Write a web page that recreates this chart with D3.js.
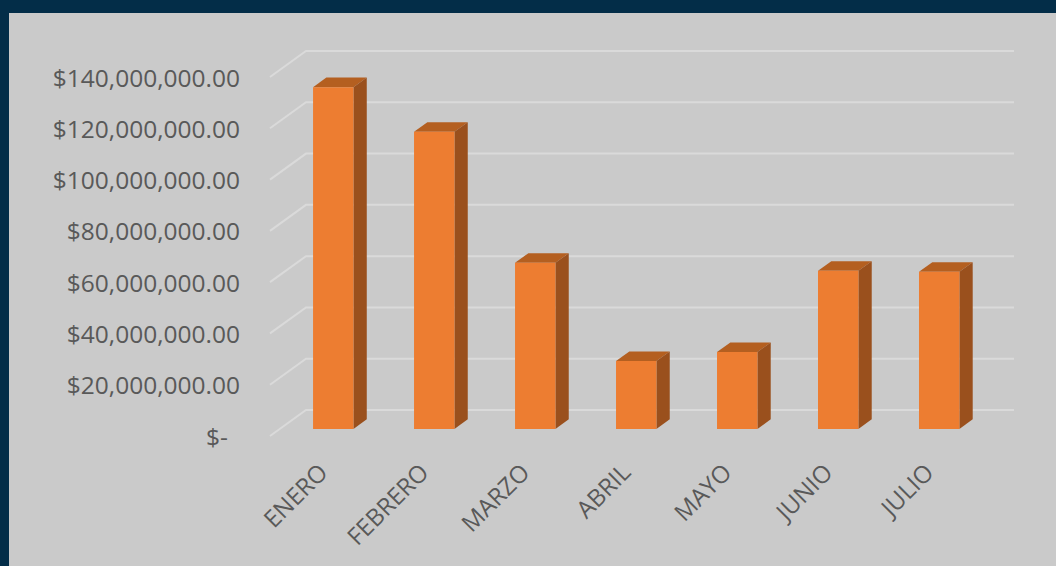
<!DOCTYPE html>
<html lang="es">
<head>
    <meta charset="UTF-8">
    <title>Ventas por mes</title>
    <script src="https://d3js.org/d3.v7.min.js"></script>
    <style>
        body { margin: 0; background: #032d48; }
        text { font-family: "Open Sans", sans-serif; fill: #595959; }
    </style>
</head>
<body>
    <div id="plot"></div>

    <script>
        let meses = ['ENERO', 'FEBRERO', 'MARZO', 'ABRIL', 'MAYO', 'JUNIO', 'JULIO'];
        let ventas = [133300000, 115900000, 64800000, 26500000, 30000000, 61700000, 61300000];
        let yTicks = [0, 20000000, 40000000, 60000000, 80000000, 100000000, 120000000, 140000000];

        let svgWidth = 1056;
        let svgHeight = 566;

        // oblique 3d: depth 0 = front of floor, depth 1 = back wall
        let depthX = 36, depthY = -26;
        let barD0 = 0.27, barD1 = 0.64;

        function pt(x, y, d){
            return [x + depthX * d, y + depthY * d];
        }
        function poly(points){
            return points.map(p => p.join(',')).join(' ');
        }

        let svg = d3.select('#plot')
                    .append('svg')
                        .attr('width', svgWidth)
                        .attr('height', svgHeight);

        svg.append('rect')
            .attr('x', 9)
            .attr('y', 13)
            .attr('width', svgWidth - 9)
            .attr('height', svgHeight - 13)
            .attr('fill', '#cacaca');

        let x = d3.scaleBand()
                    .domain(meses)
                    .range([270, 983])
                    .paddingInner(0.6)
                    .paddingOuter(0.33);

        let y = d3.scaleLinear()
                    .domain([0, 140000000])
                    .range([436, 77]);

        let x0 = 270, x1 = 978;

        // gridlines: floor diagonal + back wall
        let grid = svg.append('g');
        yTicks.forEach(function(t){
            let a = pt(x0, y(t), 0);
            let b = pt(x0, y(t), 1);
            let c = pt(x1, y(t), 1);
            grid.append('polyline')
                .attr('points', poly([a, b, c]))
                .attr('fill', 'none')
                .attr('stroke', '#dadada')
                .attr('stroke-width', 2);
        });

        let fmt = d3.format('$,.2f');
        svg.append('g')
            .selectAll('text')
            .data(yTicks)
            .join('text')
                .attr('x', t => t === 0 ? 228 : 240)
                .attr('y', t => y(t))
                .attr('text-anchor', 'end')
                .attr('dominant-baseline', 'central')
                .style('font-size', '24.5px')
                .text(t => t === 0 ? '$-' : fmt(t));

        let bars = svg.append('g')
                    .selectAll('g')
                    .data(meses)
                    .join('g');

        // top
        bars.append('polygon')
            .attr('fill', '#b45f20')
            .attr('points', function(m, i){
                let l = x(m), r = x(m) + x.bandwidth(), top = y(ventas[i]);
                return poly([pt(l, top, barD0), pt(r, top, barD0), pt(r, top, barD1), pt(l, top, barD1)]);
            });
        // side
        bars.append('polygon')
            .attr('fill', '#9a501d')
            .attr('points', function(m, i){
                let r = x(m) + x.bandwidth(), top = y(ventas[i]), bot = y(0);
                return poly([pt(r, top, barD0), pt(r, top, barD1), pt(r, bot, barD1), pt(r, bot, barD0)]);
            });
        // front
        bars.append('polygon')
            .attr('fill', '#ed7d31')
            .attr('points', function(m, i){
                let l = x(m), r = x(m) + x.bandwidth(), top = y(ventas[i]), bot = y(0);
                return poly([pt(l, top, barD0), pt(r, top, barD0), pt(r, bot, barD0), pt(l, bot, barD0)]);
            });

        svg.append('g')
            .selectAll('text')
            .data(meses)
            .join('text')
                .attr('text-anchor', 'end')
                .attr('transform', function(m){
                    let cx = x(m) + x.bandwidth() / 2 + depthX * barD0;
                    return 'translate(' + (cx - 4) + ',474) rotate(-45)';
                })
                .style('font-size', '24px')
                .text(m => m);
    </script>
</body>
</html>
